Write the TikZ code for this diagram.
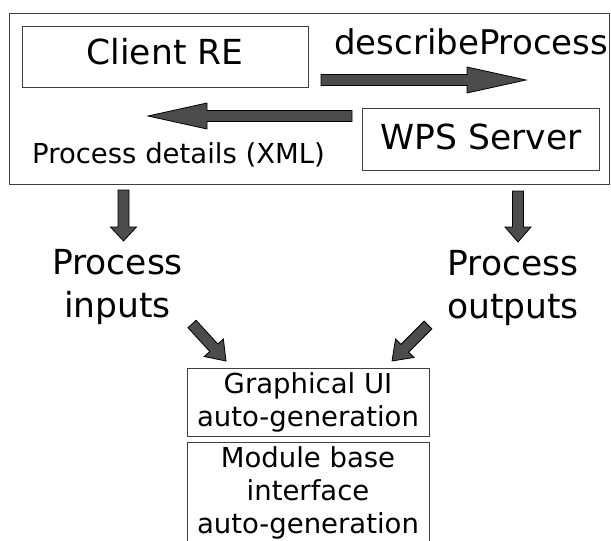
\documentclass[tikz,border=0pt]{standalone}
\usepackage{fontspec}
\setmainfont{DejaVu Sans}
\usetikzlibrary{calc}

\tikzset{
  box/.style={draw=black!75, line width=0.9pt, inner sep=0pt},
  bigtext/.style={font=\fontsize{34.5}{43}\selectfont},
  smalltext/.style={font=\fontsize{27.5}{33}\selectfont},
  fatarrow/.style={draw=black, line width=0.8pt, fill=black!70, line join=miter}
}
% block arrow between two points: from, to, head length
\newcommand{\blockarrow}[3]{%
  \draw[fatarrow] let \p1=(#1), \p2=(#2),
    \n1={atan2((\y2)-(\y1),(\x2)-(\x1))}, \n2={veclen((\x2)-(\x1),(\y2)-(\y1))} in
    [shift={(\p1)}, rotate=\n1] (0,5.5) -- ({\n2-#3},5.5) -- ({\n2-#3},13) -- (\n2,0)
    -- ({\n2-#3},-13) -- ({\n2-#3},-5.5) -- (0,-5.5) -- cycle;}

\begin{document}
\begin{tikzpicture}[x=1pt,y=-1pt]
	\useasboundingbox (0,0) rectangle (611,541);
	% top frame
	\node[box, minimum width=600pt, minimum height=171pt] (frame) at (309.75,99) {};
	\node[box, bigtext, minimum width=286pt, minimum height=61pt, text height=25pt, text depth=10pt] (client) at (165,56.5) {Client RE};
	\node[box, bigtext, minimum width=237pt, minimum height=62pt, text height=25pt, text depth=4pt] (wps) at (481,139) {WPS Server};
	\node[bigtext, font=\fontsize{34}{43}\selectfont, anchor=base west, inner sep=0pt] (describe) at (334,54) {describeProcess};
	\node[smalltext, anchor=base west, inner sep=0pt] (details) at (32,163) {Process details (XML)};
	% inputs / outputs
	\node[bigtext, align=center, anchor=base, inner sep=0pt] (inputs) at (117.5,317) {Process\\inputs};
	\node[bigtext, align=center, anchor=base, inner sep=0pt] (outputs) at (513,318) {Process\\outputs};
	% generated parts
	\node[box, smalltext, align=center, minimum width=242pt, minimum height=68pt] (gui) at (308,402) {Graphical UI\\auto-generation};
	\node[box, smalltext, align=center, minimum width=242pt, minimum height=100pt] (module) at (308,492.7) {Module base\\interface\\auto-generation};
	% arrow ends
	\coordinate (req0) at (321,80);
	\coordinate (req1) at (526,80);
	\coordinate (resp0) at (352,116);
	\coordinate (resp1) at (148,116);
	\coordinate (in0) at (123.5,190);
	\coordinate (in1) at (123.5,241);
	\coordinate (out0) at (518,191);
	\coordinate (out1) at (518,242);
	\coordinate (gin0) at (192,324);
	\coordinate (gin1) at (226,361);
	\coordinate (gout0) at (428,325);
	\coordinate (gout1) at (392,361);
	\blockarrow{req0}{req1}{59}
	\blockarrow{resp0}{resp1}{59}
	\blockarrow{in0}{in1}{14}
	\blockarrow{out0}{out1}{15}
	\blockarrow{gin0}{gin1}{18}
	\blockarrow{gout0}{gout1}{18}
\end{tikzpicture}
\end{document}
